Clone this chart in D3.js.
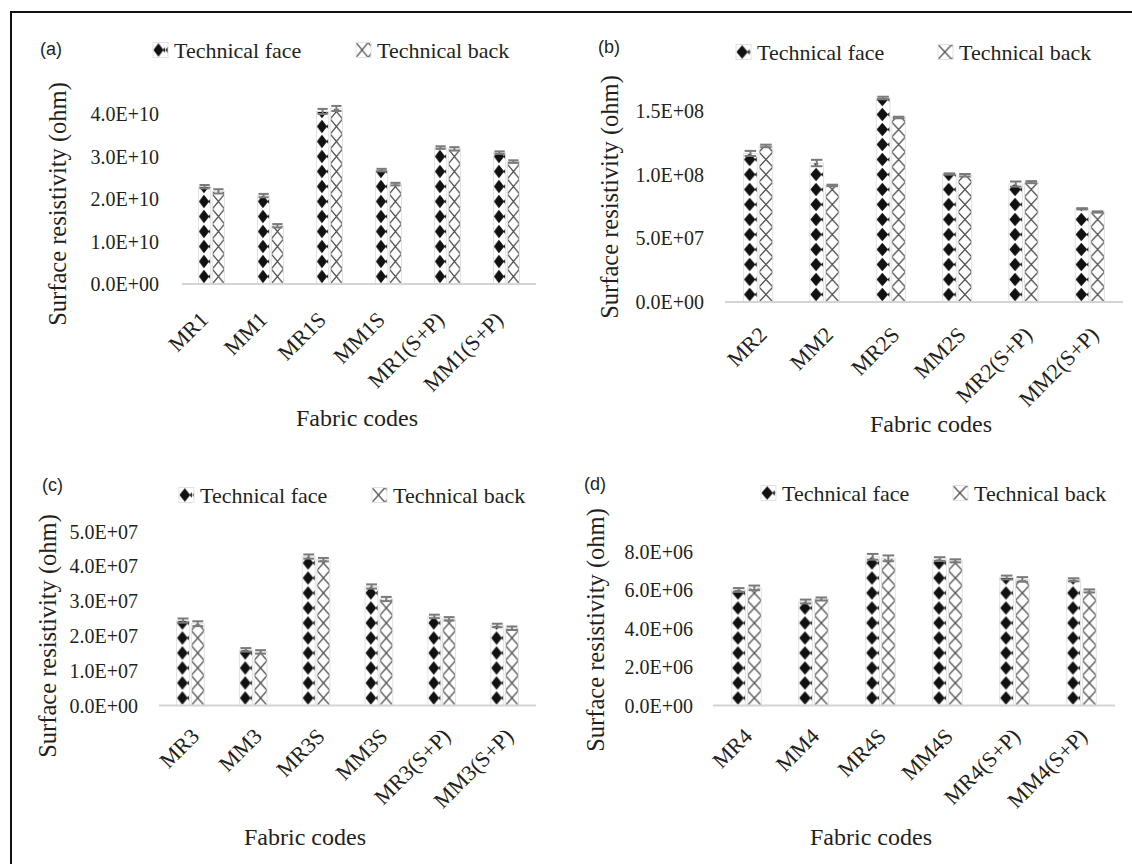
<!DOCTYPE html>
<html>
<head>
<meta charset="utf-8">
<script src="https://cdn.jsdelivr.net/npm/d3@7"></script>
<style>
  html, body { margin: 0; padding: 0; background: #fff; }
  svg text { fill: #231f20; }
  .serif { font-family: "Liberation Serif", "Times New Roman", serif; }
  .sans { font-family: "Liberation Sans", Arial, sans-serif; }
</style>
</head>
<body>
<svg id="chart" width="1132" height="864"></svg>
<script>
// series names
const series = ['Technical face', 'Technical back'];

// (a)
const codesA = ['MR1', 'MM1', 'MR1S', 'MM1S', 'MR1(S+P)', 'MM1(S+P)'];
const faceA = [2.29e10, 2.08e10, 4.06e10, 2.68e10, 3.21e10, 3.09e10];
const backA = [2.18e10, 1.37e10, 4.13e10, 2.35e10, 3.18e10, 2.88e10];
const errFaceA = [0.04e10, 0.04e10, 0.06e10, 0.03e10, 0.03e10, 0.03e10];
const errBackA = [0.05e10, 0.04e10, 0.06e10, 0.03e10, 0.04e10, 0.03e10];
const ticksA = [0, 1e10, 2e10, 3e10, 4e10];

// (b)
const codesB = ['MR2', 'MM2', 'MR2S', 'MM2S', 'MR2(S+P)', 'MM2(S+P)'];
const faceB = [1.165e8, 1.09e8, 1.60e8, 1.004e8, 0.925e8, 0.731e8];
const backB = [1.224e8, 0.914e8, 1.447e8, 0.994e8, 0.94e8, 0.706e8];
const errFaceB = [0.02e8, 0.025e8, 0.01e8, 0.005e8, 0.02e8, 0.005e8];
const errBackB = [0.01e8, 0.006e8, 0.006e8, 0.01e8, 0.008e8, 0.005e8];
const ticksB = [0, 5e7, 1e8, 1.5e8];

// (c)
const codesC = ['MR3', 'MM3', 'MR3S', 'MM3S', 'MR3(S+P)', 'MM3(S+P)'];
const faceC = [2.44e7, 1.60e7, 4.28e7, 3.42e7, 2.56e7, 2.30e7];
const backC = [2.35e7, 1.54e7, 4.19e7, 3.06e7, 2.49e7, 2.22e7];
const errFaceC = [0.06e7, 0.05e7, 0.06e7, 0.06e7, 0.05e7, 0.05e7];
const errBackC = [0.07e7, 0.05e7, 0.05e7, 0.06e7, 0.05e7, 0.05e7];
const ticksC = [0, 1e7, 2e7, 3e7, 4e7, 5e7];

// (d)
const codesD = ['MR4', 'MM4', 'MR4S', 'MM4S', 'MR4(S+P)', 'MM4(S+P)'];
const faceD = [6.02e6, 5.42e6, 7.75e6, 7.63e6, 6.67e6, 6.55e6];
const backD = [6.13e6, 5.55e6, 7.67e6, 7.54e6, 6.57e6, 5.97e6];
const errFaceD = [0.1e6, 0.1e6, 0.15e6, 0.1e6, 0.1e6, 0.08e6];
const errBackD = [0.12e6, 0.08e6, 0.15e6, 0.08e6, 0.12e6, 0.08e6];
const ticksD = [0, 2e6, 4e6, 6e6, 8e6];

const panels = [
  {id: 'a', label: '(a)', codes: codesA, face: faceA, back: backA, errF: errFaceA, errB: errBackA, ticks: ticksA,
   x: [182, 536], base: 284, top: 114, lab: [40, 55], tickRight: 159, legY: 50, leg: [153, 356],
   yTitle: [57, 204], xTitle: [357, 426], xl: [-2, 37]},
  {id: 'b', label: '(b)', codes: codesB, face: faceB, back: backB, errF: errFaceB, errB: errBackB, ticks: ticksB,
   x: [725, 1123], base: 302, top: 110.75, lab: [598, 53], tickRight: 704, legY: 52, leg: [736, 938],
   yTitle: [609, 197], xTitle: [931, 432], xl: [10, 34]},
  {id: 'c', label: '(c)', codes: codesC, face: faceC, back: backC, errF: errFaceC, errB: errBackC, ticks: ticksC,
   x: [159, 536], base: 705.5, top: 531.5, lab: [42, 491], tickRight: 138, legY: 495, leg: [179, 372],
   yTitle: [47, 636], xTitle: [305, 845], xl: [10, 32]},
  {id: 'd', label: '(d)', codes: codesD, face: faceD, back: backD, errF: errFaceD, errB: errBackD, ticks: ticksD,
   x: [713, 1115], base: 705.5, top: 552, lab: [584, 490], tickRight: 693, legY: 493, leg: [761, 953],
   yTitle: [595, 630], xTitle: [871, 845], xl: [7, 32]}
];

const svg = d3.select('#chart');
const defs = svg.append('defs');

// patterns sized to the bar width of each panel
function makePatterns(id, w) {
  const h = 15, cx = w * 0.45, hw = w * 0.42;
  const pf = defs.append('pattern').attr('id', 'face-' + id)
    .attr('patternUnits', 'userSpaceOnUse').attr('width', w).attr('height', h);
  pf.append('rect').attr('width', w).attr('height', h).attr('fill', '#fff');
  pf.append('path').attr('d', `M${cx},0.8 L${cx + hw},7.5 L${cx},14.2 L${cx - hw},7.5 Z`).attr('fill', '#111');
  pf.append('path').attr('d', `M${w},4.8 L${w - 2.6},7.5 L${w},10.2 Z`).attr('fill', '#222');

  const pb = defs.append('pattern').attr('id', 'back-' + id)
    .attr('patternUnits', 'userSpaceOnUse').attr('width', w).attr('height', h);
  pb.append('rect').attr('width', w).attr('height', h).attr('fill', '#fff');
  pb.append('path').attr('d', `M0,0 L${w},${h} M${w},0 L0,${h}`)
    .attr('stroke', '#4a4a4a').attr('stroke-width', 1.2).attr('fill', 'none');
}

const fmt = v => v.toExponential(1).toUpperCase().replace(/E([+-])(\d)$/, 'E$10$2');

// frame (top + left only, rest cropped)
svg.append('line').attr('x1', 10).attr('x2', 1132).attr('y1', 12).attr('y2', 12)
  .attr('stroke', '#111').attr('stroke-width', 2);
svg.append('line').attr('x1', 11).attr('x2', 11).attr('y1', 12).attr('y2', 864)
  .attr('stroke', '#111').attr('stroke-width', 2);

panels.forEach(p => {
  const g = svg.append('g');

  const x0 = d3.scaleBand().domain(p.codes).range(p.x).paddingInner(0.56).paddingOuter(0.28);
  const x1 = d3.scaleBand().domain(series).range([0, x0.bandwidth()]).paddingInner(0.12);
  const y = d3.scaleLinear().domain([0, p.ticks[p.ticks.length - 1]]).range([p.base, p.top]);
  const bw = x1.bandwidth();
  makePatterns(p.id, bw);

  const rows = p.codes.map((c, i) => ({code: c, vals: [
    {s: series[0], v: p.face[i], e: p.errF[i], pat: 'face-' + p.id},
    {s: series[1], v: p.back[i], e: p.errB[i], pat: 'back-' + p.id}
  ]}));

  // y tick labels
  g.selectAll('.ytick').data(p.ticks).enter().append('text')
    .attr('class', 'serif')
    .attr('x', p.tickRight).attr('y', d => y(d)).attr('dy', '0.35em')
    .attr('text-anchor', 'end').attr('font-size', 20)
    .text(fmt);

  // bars (each bar in its own group so the pattern starts at its left/bottom)
  const grp = g.selectAll('.grp').data(rows).enter().append('g')
    .attr('transform', d => 'translate(' + x0(d.code) + ',0)');

  const bar = grp.selectAll('.bar').data(d => d.vals).enter().append('g')
    .attr('transform', d => 'translate(' + x1(d.s) + ',' + p.base + ')');
  bar.append('rect')
    .attr('x', 0).attr('y', d => y(d.v) - p.base)
    .attr('width', bw).attr('height', d => p.base - y(d.v))
    .attr('fill', d => 'url(#' + d.pat + ')')
    .attr('stroke', '#e2e2e2').attr('stroke-width', 1);

  // error bars
  const eb = grp.selectAll('.err').data(d => d.vals).enter().append('g')
    .attr('stroke', '#7a7a7a').attr('stroke-width', 2);
  const cx = d => x1(d.s) + bw / 2;
  const cw = bw * 0.42;
  eb.append('line').attr('x1', cx).attr('x2', cx)
    .attr('y1', d => y(d.v + d.e)).attr('y2', d => y(d.v - d.e));
  eb.append('line').attr('x1', d => cx(d) - cw).attr('x2', d => cx(d) + cw)
    .attr('y1', d => y(d.v + d.e)).attr('y2', d => y(d.v + d.e));
  eb.append('line').attr('x1', d => cx(d) - cw).attr('x2', d => cx(d) + cw)
    .attr('y1', d => y(d.v - d.e)).attr('y2', d => y(d.v - d.e));

  // baseline
  g.append('line').attr('x1', p.x[0]).attr('x2', p.x[1])
    .attr('y1', p.base).attr('y2', p.base)
    .attr('stroke', '#d4d4d4').attr('stroke-width', 2);

  // x tick labels
  g.selectAll('.xtick').data(p.codes).enter().append('text')
    .attr('class', 'serif').attr('font-size', 22).attr('text-anchor', 'end')
    .attr('transform', d => 'translate(' + (x0(d) + x0.bandwidth() / 2 + p.xl[0]) + ',' + (p.base + p.xl[1]) + ') rotate(-45)')
    .text(d => d);

  // axis titles
  g.append('text').attr('class', 'serif').attr('font-size', 24.5).attr('text-anchor', 'middle')
    .attr('transform', 'translate(' + p.yTitle[0] + ',' + p.yTitle[1] + ') rotate(-90)')
    .attr('dy', '0.35em')
    .text('Surface resistivity (ohm)');
  g.append('text').attr('class', 'serif').attr('font-size', 24).attr('text-anchor', 'middle')
    .attr('x', p.xTitle[0]).attr('y', p.xTitle[1])
    .text('Fabric codes');

  // panel letter
  g.append('text').attr('class', 'sans').attr('font-size', 18)
    .attr('x', p.lab[0]).attr('y', p.lab[1]).text(p.label);

  // legend
  const leg = g.selectAll('.leg').data(series).enter().append('g')
    .attr('transform', (d, i) => 'translate(' + p.leg[i] + ',' + (p.legY - 7.5) + ')');
  leg.append('rect').attr('width', 15).attr('height', 15)
    .attr('fill', (d, i) => i === 0 ? 'url(#face-' + p.id + ')' : 'url(#back-' + p.id + ')')
    .attr('stroke', '#e2e2e2');
  leg.append('text').attr('class', 'serif').attr('font-size', 22)
    .attr('x', 21).attr('y', 15).text(d => d);
});
</script>
</body>
</html>
